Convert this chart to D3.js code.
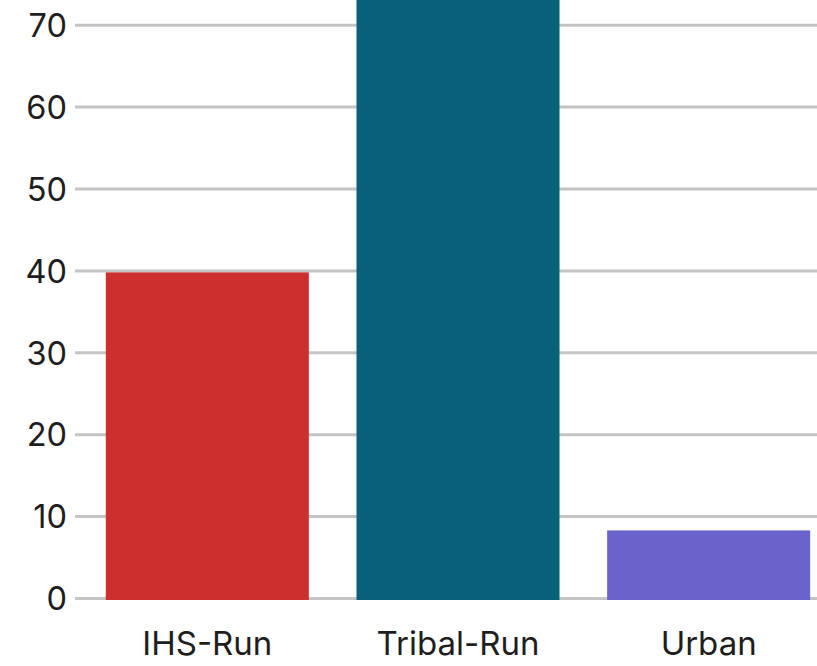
<!DOCTYPE html>
<html><head><meta charset="utf-8">
<script src="https://cdn.jsdelivr.net/npm/d3@7"></script>
<style>html,body{margin:0;padding:0;background:#fff;overflow:hidden}</style>
</head><body>
<script>
const categories = ["IHS-Run", "Tribal-Run", "Urban"];
const values = [40, 74, 8.5];
const colors = ["#CD2F2F", "#086178", "#6B63CC"];
const yTicks = [0, 10, 20, 30, 40, 50, 60, 70];

const W = 817, H = 666;
const svg = d3.select("body").append("svg").attr("width", W).attr("height", H);

const y = d3.scaleLinear().domain([0, 70]).range([600, 26.7]);
const x = d3.scaleBand().domain(categories).range([82, 834]).paddingInner(0.19).paddingOuter(0.095);

const font = "Inter, 'Open Sans', sans-serif";

// gridlines
svg.append("g").selectAll("line").data(yTicks).join("line")
  .attr("x1", 75).attr("x2", W)
  .attr("y1", d => y(d) - 1.5).attr("y2", d => y(d) - 1.5)
  .attr("stroke", "#c4c4c4").attr("stroke-width", 3);

// y labels
svg.append("g").selectAll("text").data(yTicks).join("text")
  .attr("x", 67).attr("y", d => y(d) - 1.5).attr("dy", "0.36em")
  .attr("text-anchor", "end").attr("font-family", font).attr("font-size", 32.5)
  .attr("fill", "#1e1e1e").text(d => d);

// bars
svg.append("g").selectAll("rect").data(categories).join("rect")
  .attr("x", d => x(d)).attr("width", x.bandwidth())
  .attr("y", (d, i) => y(values[i])).attr("height", (d, i) => y(0) - y(values[i]))
  .attr("fill", (d, i) => colors[i]);

// x labels
svg.append("g").selectAll("text").data(categories).join("text")
  .attr("x", d => x(d) + x.bandwidth() / 2).attr("y", 655)
  .attr("text-anchor", "middle").attr("font-family", font).attr("font-size", 33)
  .attr("fill", "#1e1e1e").text(d => d);
</script>
</body></html>
